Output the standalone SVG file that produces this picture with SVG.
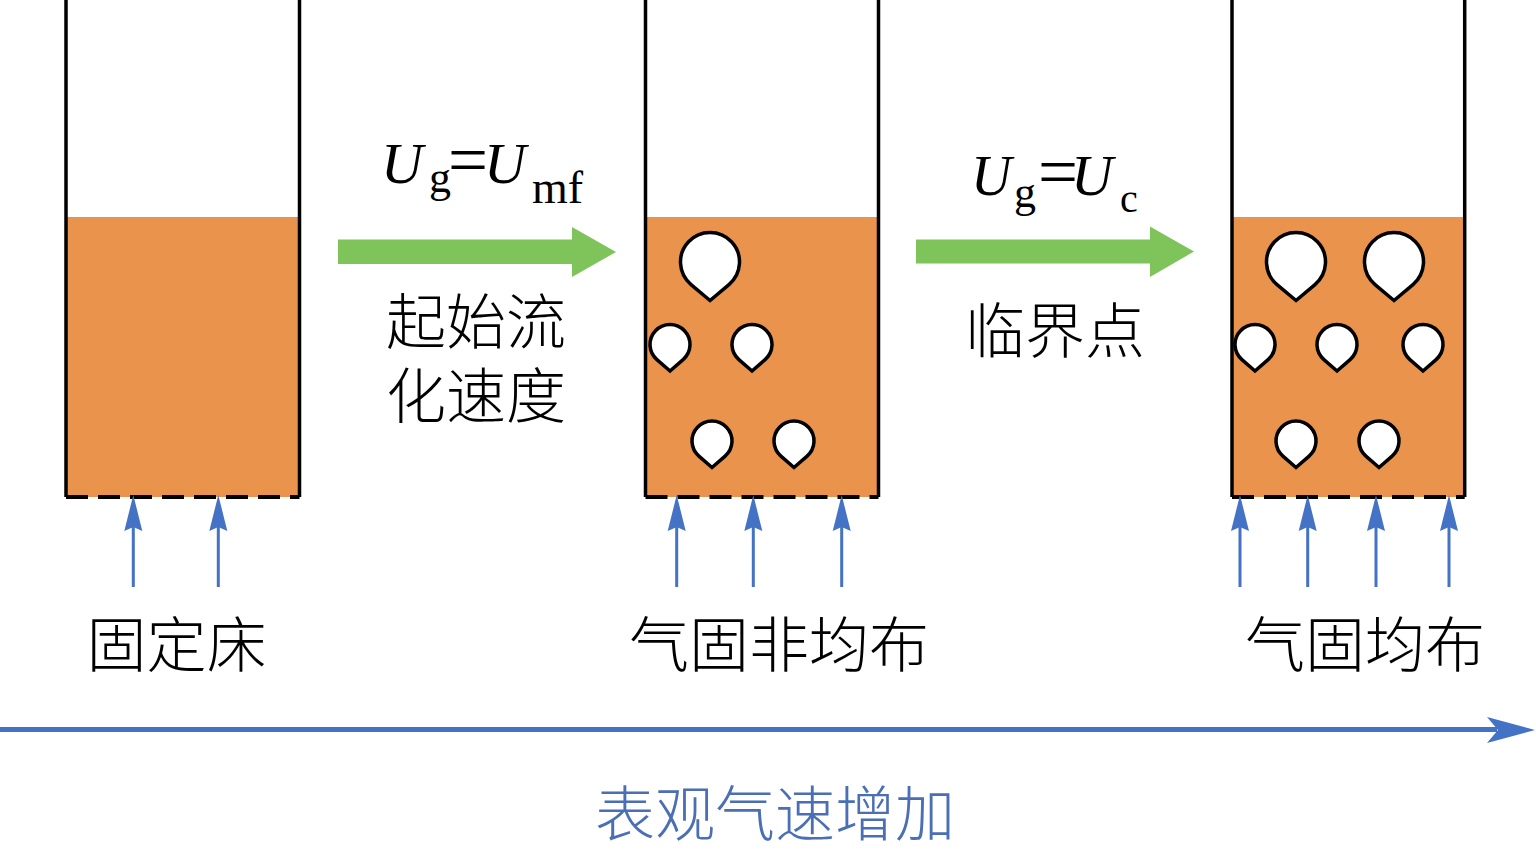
<svg xmlns="http://www.w3.org/2000/svg" width="1536" height="853" viewBox="0 0 1536 853">
<style>
.wall{fill:none;stroke:#000;stroke-width:3.5}
.bed{fill:#E9934C}
.grid{fill:none;stroke:#000;stroke-width:4;stroke-dasharray:22 10}
.bub{fill:#fff;stroke:#000;stroke-width:3.5;stroke-linejoin:miter}
.gas{stroke:#4472C4;stroke-width:3;fill:none}
.gashead{fill:#4472C4}
.green{fill:#7FC45A}
.cn{font-family:"Noto Sans CJK SC","Noto Sans CJK JP",sans-serif;font-size:60px;font-weight:300;fill:#000;text-anchor:middle}
.cnblue{fill:#4A6FB5}
.it{font-family:"Liberation Serif","Times New Roman",serif;font-style:italic;fill:#000}
.rm{font-family:"Liberation Serif","Times New Roman",serif;fill:#000}
</style>
<defs>
<path id="bigB" class="bub" d="M0,38.5 L-18.97,22.6 A29.5,29.5 0 1 1 18.97,22.6 Z"/>
<path id="smB" class="bub" d="M0,26.5 L-13.1,15.1 A20,20 0 1 1 13.1,15.1 Z"/>
<path id="upA" class="gashead" d="M0,-2 L9,34 L0,30 L-9,34 Z"/>
</defs>
<rect width="1536" height="853" fill="#fff"/>

<g id="bed1">
<rect class="bed" x="66" y="217" width="233.5" height="280"/>
<path class="wall" d="M66,0 V497 M299.5,0 V497"/>
<path class="grid" d="M66,497 H299.5"/>
</g>

<g id="bed2">
<rect class="bed" x="645.5" y="217" width="233" height="280"/>
<path class="wall" d="M645.5,0 V497 M878.5,0 V497"/>
<path class="grid" d="M645.5,497 H878.5"/>
<use href="#bigB" x="710" y="262"/>
<use href="#smB" x="670" y="344.5"/>
<use href="#smB" x="752" y="344.5"/>
<use href="#smB" x="712" y="441"/>
<use href="#smB" x="794" y="441"/>
</g>

<g id="bed3">
<rect class="bed" x="1232" y="217" width="232.7" height="280"/>
<path class="wall" d="M1232,0 V497 M1464.7,0 V497"/>
<path class="grid" d="M1232,497 H1464.7"/>
<use href="#bigB" x="1296" y="262"/>
<use href="#bigB" x="1394" y="262"/>
<use href="#smB" x="1255" y="344.5"/>
<use href="#smB" x="1337" y="344.5"/>
<use href="#smB" x="1423" y="344.5"/>
<use href="#smB" x="1296" y="441"/>
<use href="#smB" x="1379" y="441"/>
</g>

<g id="connectors">
<g id="gas-inlets">
<path class="gas" d="M133.3,525 V587 M218.3,525 V587 M676.7,525 V587 M753.3,525 V587 M841.7,525 V587 M1240,525 V587 M1307.7,525 V587 M1376,525 V587 M1449,525 V587"/>
<use href="#upA" x="133.3" y="497"/>
<use href="#upA" x="218.3" y="497"/>
<use href="#upA" x="676.7" y="497"/>
<use href="#upA" x="753.3" y="497"/>
<use href="#upA" x="841.7" y="497"/>
<use href="#upA" x="1240" y="497"/>
<use href="#upA" x="1307.7" y="497"/>
<use href="#upA" x="1376" y="497"/>
<use href="#upA" x="1449" y="497"/>
</g>
<path id="arrow-umf" class="green" d="M338,239.5 H572 V227 L616,252 L572,277 V264 H338 Z"/>
<path id="arrow-uc" class="green" d="M916,239.5 H1150 V226.5 L1194,251.5 L1150,277 V263.5 H916 Z"/>
<g id="axis">
<path d="M0,729.5 H1497" stroke="#4472C4" stroke-width="5" fill="none"/>
<path d="M1535,730 L1487,717 L1498,730 L1487,743 Z" fill="#4472C4"/>
</g>
</g>

<g id="label-umf">
<text class="it" x="381" y="183" font-size="58">U</text>
<text class="rm" x="429" y="192" font-size="44">g</text>
<text class="rm" x="448" y="184" font-size="72" textLength="40" lengthAdjust="spacingAndGlyphs">=</text>
<text class="it" x="484" y="183" font-size="58">U</text>
<text class="rm" x="532" y="203" font-size="46">mf</text>
</g>
<g id="label-uc">
<text class="it" x="971" y="195" font-size="56">U</text>
<text class="rm" x="1014" y="207" font-size="44">g</text>
<text class="rm" x="1038" y="196" font-size="72" textLength="40" lengthAdjust="spacingAndGlyphs">=</text>
<text class="it" x="1071" y="195" font-size="58">U</text>
<text class="rm" x="1120" y="212" font-size="40">c</text>
</g>

<g id="label-min-fluid">
<text class="cn" x="476" y="344">起始流</text>
<text class="cn" x="476" y="418">化速度</text>
</g>
<text id="label-critical" class="cn" x="1055" y="353">临界点</text>
<text id="label-fixed" class="cn" x="176.5" y="667">固定床</text>
<text id="label-nonuniform" class="cn" x="779" y="667">气固非均布</text>
<text id="label-uniform" class="cn" x="1365" y="667">气固均布</text>
<text id="label-axis" class="cn cnblue" x="775" y="836">表观气速增加</text>
</svg>
